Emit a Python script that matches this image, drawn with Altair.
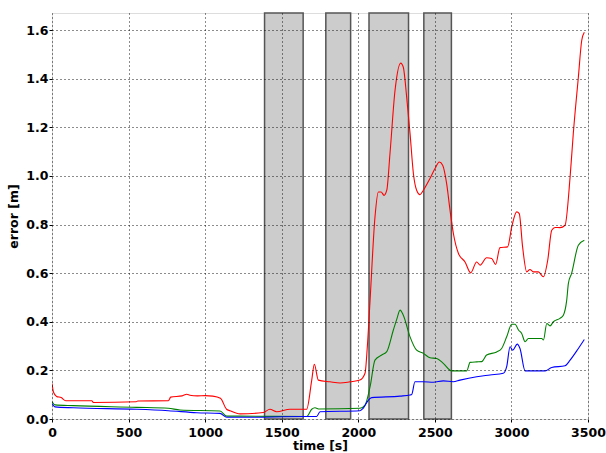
import altair as alt
import pandas as pd

# ---- data ----
red_t = [0, 10, 30, 60, 90, 260, 270, 550, 560, 760, 775, 850, 880, 900, 950, 1000, 1050, 1100, 1140,
         1162, 1228, 1380, 1423, 1467, 1554, 1663, 1696, 1713, 1739, 1815, 1881, 1946, 2011, 2044, 2059,
         2077, 2109, 2131, 2149, 2168, 2186, 2207, 2240, 2277, 2294, 2316, 2338, 2360, 2381, 2403, 2425,
         2468, 2501, 2529, 2551, 2577, 2599, 2621, 2654, 2697, 2734, 2773, 2795, 2838, 2871, 2897, 2925,
         2975, 3002, 3034, 3051, 3073, 3100, 3121, 3143, 3176, 3209, 3237, 3263, 3285, 3317, 3350, 3383,
         3404, 3437, 3459, 3476]
red_v = [0.146, 0.11, 0.093, 0.088, 0.075, 0.075, 0.068, 0.071, 0.074, 0.075, 0.09, 0.095, 0.102, 0.098,
         0.095, 0.096, 0.094, 0.085, 0.04,
         0.034, 0.021, 0.027, 0.04, 0.030, 0.040, 0.04, 0.16, 0.225, 0.16, 0.153, 0.148, 0.153, 0.16, 0.188,
         0.297,
         0.489, 0.831, 0.934, 0.934, 0.92, 0.941, 1.092, 1.352, 1.464, 1.447, 1.324, 1.174, 1.009, 0.941,
         0.923, 0.941,
         0.989, 1.03, 1.057, 1.044, 0.968, 0.859, 0.763, 0.681, 0.646, 0.601, 0.646, 0.633, 0.663, 0.66,
         0.636, 0.705,
         0.708, 0.79, 0.852, 0.845, 0.708, 0.605, 0.615, 0.605, 0.605, 0.585, 0.653, 0.776, 0.788, 0.787,
         0.797, 0.995,
         1.174, 1.406, 1.557, 1.591]

green_t = [0, 20, 139, 553, 760, 836, 1097, 1141, 1228, 1663, 1696, 1717, 1746, 2011, 2044, 2077, 2109,
           2153, 2186, 2229, 2251, 2273, 2294, 2338, 2381, 2425, 2468, 2512, 2555, 2610, 2708, 2730, 2773,
           2806, 2838, 2904, 2936, 2969, 3002, 3024, 3046, 3067, 3089, 3111, 3198, 3209, 3231, 3252, 3274,
           3317, 3339, 3361, 3372, 3393, 3437, 3476]
green_v = [0.071, 0.058, 0.055, 0.048, 0.044, 0.037, 0.033, 0.012, 0.012, 0.01, 0.04, 0.046, 0.041, 0.044,
           0.057, 0.133, 0.242, 0.263, 0.277, 0.366, 0.41, 0.448, 0.427, 0.338, 0.283, 0.27, 0.252, 0.249,
           0.229, 0.198, 0.198, 0.233, 0.235, 0.236, 0.263, 0.276, 0.29, 0.338, 0.39, 0.39, 0.366, 0.352,
           0.318, 0.331, 0.331, 0.325, 0.393, 0.383, 0.4, 0.414, 0.427, 0.489, 0.558, 0.599, 0.715, 0.735]

blue_t = [0, 20, 139, 553, 760, 945, 1097, 1141, 1228, 1663, 1728, 1750, 2011, 2033, 2066, 2088, 2273,
          2338, 2349, 2370, 2425, 2490, 2555, 2620, 2664, 2773, 2860, 2947, 2969, 2991, 3008, 3038, 3056,
          3089, 3220, 3263, 3350, 3383, 3437, 3476]
blue_v = [0.064, 0.05, 0.046, 0.04, 0.034, 0.026, 0.023, 0.007, 0.007, 0.01, 0.01, 0.03, 0.034, 0.045,
          0.078, 0.088, 0.094, 0.099, 0.101, 0.153, 0.153, 0.151, 0.157, 0.153, 0.16, 0.174, 0.181, 0.188,
          0.215, 0.297, 0.283, 0.308, 0.29, 0.198, 0.198, 0.212, 0.219, 0.242, 0.29, 0.327]

shade_start = [1388, 1788, 2070, 2428]
shade_end = [1640, 1950, 2328, 2608]

x_ticks = [0, 500, 1000, 1500, 2000, 2500, 3000, 3500]
y_ticks = [0.0, 0.2, 0.4, 0.6, 0.8, 1.0, 1.2, 1.4, 1.6]

series_names = ["red", "green", "blue"]
series_colors = ["#ff0000", "#008000", "#0000ff"]

# ---- tables ----
rows = []
for name, ts, vs in [("red", red_t, red_v), ("green", green_t, green_v), ("blue", blue_t, blue_v)]:
    for i, (t, v) in enumerate(zip(ts, vs)):
        rows.append({"series": name, "t": t, "v": v, "order": i})
lines_df = pd.DataFrame(rows)
shade_df = pd.DataFrame({"start": shade_start, "end": shade_end})

W, H = 536, 406
FONT = "DejaVu Sans"

xscale = alt.Scale(domain=[0, 3500], nice=False, zero=False)
yscale = alt.Scale(domain=[0, 1.67], nice=False)

xaxis = alt.Axis(values=x_ticks, title="time [s]", grid=True, gridDash=[1, 3], gridColor="#000000",
                 gridOpacity=0.9, tickSize=3, tickColor="#000", domain=False, labelPadding=4,
                 labelFont=FONT, labelFontWeight="bold", labelFontSize=12.5, labelColor="#000",
                 titleFont=FONT, titleFontWeight="bold", titleFontSize=12.5, titleColor="#000",
                 titlePadding=1, labelFlush=False, format="d", zindex=1)
yaxis = alt.Axis(values=y_ticks, title="error [m]", grid=True, gridDash=[1, 3], gridColor="#000000",
                 gridOpacity=0.9, tickSize=3, tickColor="#000", domain=False, labelPadding=1,
                 labelFont=FONT, labelFontWeight="bold", labelFontSize=12.5, labelColor="#000",
                 titleFont=FONT, titleFontWeight="bold", titleFontSize=12.5, titleColor="#000",
                 titlePadding=5, format=".1f", zindex=1)

shades = alt.Chart(shade_df).mark_rect(fill="#cccccc", stroke="#555555", strokeWidth=1.5).encode(
    x=alt.X("start:Q", scale=xscale, axis=xaxis),
    x2="end:Q",
    y=alt.value(0),
    y2=alt.value(H),
)

lines = alt.Chart(lines_df).mark_line(strokeWidth=1.1, clip=True, interpolate="monotone").encode(
    x=alt.X("t:Q", scale=xscale, axis=xaxis),
    y=alt.Y("v:Q", scale=yscale, axis=yaxis),
    color=alt.Color("series:N", scale=alt.Scale(domain=series_names, range=series_colors), legend=None),
    order="order:Q",
)

chart = alt.layer(shades, lines).properties(
    width=W, height=H,
    autosize=alt.AutoSizeParams(type="none"),
    padding={"left": 52, "top": 13, "right": 18, "bottom": 34},
).configure_view(stroke="#000000", strokeWidth=1.2).configure(background="white")

chart.save("out.html", embed_options={"renderer": "svg", "actions": False})
